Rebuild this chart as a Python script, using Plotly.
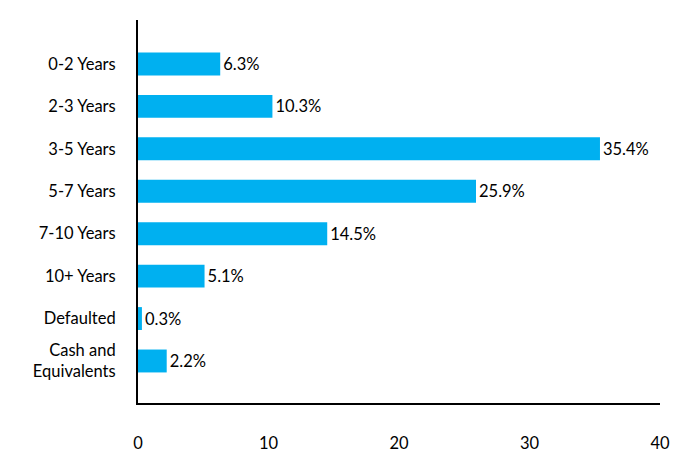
import plotly.graph_objects as go

categories = ["0-2 Years", "2-3 Years", "3-5 Years", "5-7 Years", "7-10 Years",
              "10+ Years", "Defaulted", "Cash and<br>Equivalents"]
values = [6.3, 10.3, 35.4, 25.9, 14.5, 5.1, 0.3, 2.2]
labels = [f"{v:.1f}%" for v in values]
x_ticks = [0, 10, 20, 30, 40]

FONT = "Lato"
FS = 16.5

fig = go.Figure(go.Bar(
    x=values, y=categories, orientation="h",
    marker=dict(color="#00B0F0", line=dict(width=0)),
    text=labels, textposition="outside", cliponaxis=False,
    textfont=dict(family=FONT, size=FS, color="black"),
    width=0.54,
))

fig.update_layout(
    width=696, height=468,
    margin=dict(l=138, r=36, t=20, b=65),
    paper_bgcolor="white", plot_bgcolor="white",
    font=dict(family=FONT, size=FS, color="black"),
    showlegend=False,
    xaxis=dict(range=[0, 40], tickvals=x_ticks, showgrid=False, zeroline=False,
               showline=True, linecolor="black", linewidth=2, ticks="",
               ticklabelstandoff=24, tickfont=dict(family=FONT, size=FS, color="black")),
    yaxis=dict(range=[7.99, -1.035], showgrid=False, zeroline=False,
               showline=True, linecolor="black", linewidth=2, ticks="",
               ticklabelstandoff=17, tickfont=dict(family=FONT, size=FS, color="black")),
)

fig.write_html("out.html")
